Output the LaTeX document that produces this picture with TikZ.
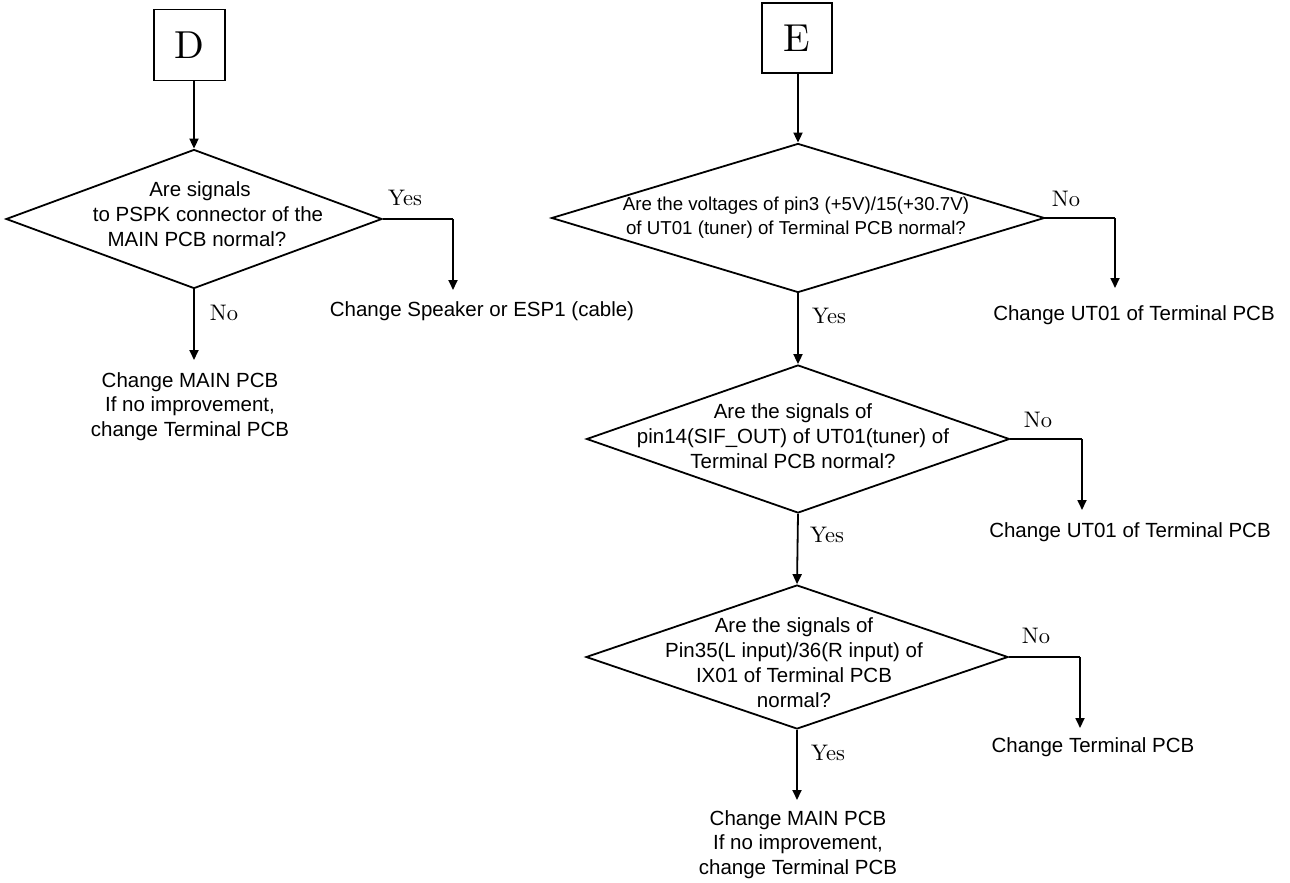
\documentclass[tikz,border=0pt]{standalone}
\usepackage{fontspec}
\setsansfont{Liberation Sans}
\newfontfamily\lblfont{lmroman10-regular}[Extension=.otf]
\usetikzlibrary{shapes.geometric,arrows.meta}
\begin{document}
\begin{tikzpicture}[x=1pt,y=-1pt,
  ln/.style={line width=1.8pt},
  arr/.style={ln,-{Triangle[length=10pt,width=9pt]}},
  startbox/.style={draw,line width=1.8pt,minimum width=71pt,minimum height=71pt,inner sep=0pt,font=\lblfont\fontsize{39}{39}\selectfont},
  dia/.style={diamond,draw,line width=1.8pt,inner sep=0pt},
  qtxt/.style={font=\sffamily\fontsize{20.5}{25}\selectfont,align=center,inner sep=0pt},
  res/.style={font=\sffamily\fontsize{20.5}{24.5}\selectfont,align=center,inner sep=0pt,anchor=north},
  lbl/.style={font=\lblfont\fontsize{22.5}{26}\selectfont,inner sep=0pt}
]
\useasboundingbox (0,0) rectangle (1290,883);

% ---------- D branch ----------
\node[startbox] (D) at (189.5,45) {D};
\node[dia,minimum width=376pt,minimum height=139pt] (q1) at (194,219) {};
\node[qtxt] (q1t) at (208,214) {Are signals\hspace*{16pt}\\to PSPK connector of the\\MAIN PCB normal?\hspace*{22pt}};
\node[res] (t1) at (482,301) {Change Speaker or ESP1 (cable)};
\node[res] (a1) at (190,372) {Change MAIN PCB\\If no improvement,\\change Terminal PCB};
\node[lbl] (y1) at (405,198) {Yes};
\node[lbl] (n1) at (224,313) {No};

\draw[arr] (q1.north |- D.south) -- (q1.north);
\draw[ln] (q1.east) -- (453,219) coordinate (c1);
\draw[arr,shorten >=11pt] (c1) -- (c1 |- t1.north);
\draw[arr,shorten >=12pt] (q1.south) -- (q1.south |- a1.north);

% ---------- E branch ----------
\node[startbox,minimum height=70pt,minimum width=70pt] (E) at (797,38) {E};
\node[dia,minimum width=493pt,minimum height=149pt] (q2) at (798,218) {};
\node[qtxt,font=\sffamily\fontsize{18.7}{24}\selectfont] (q2t) at (796,218) {Are the voltages of pin3 (+5V)/15(+30.7V)\\of UT01 (tuner) of Terminal PCB normal?};
\node[res] (b1) at (1134,305) {Change UT01 of Terminal PCB};
\node[lbl] (n2) at (1066,199) {No};
\node[lbl] (y2) at (829,316) {Yes};

\node[dia,minimum width=423pt,minimum height=148pt] (q3) at (798,439) {};
\node[qtxt] (q3t) at (793,436) {Are the signals of\\pin14(SIF\_OUT) of UT01(tuner) of\\Terminal PCB normal?};
\node[res] (c1t) at (1130,522) {Change UT01 of Terminal PCB};
\node[lbl] (n3) at (1038,420) {No};
\node[lbl] (y3) at (827,535) {Yes};

\node[dia,minimum width=422pt,minimum height=144pt] (q4) at (797,657) {};
\node[qtxt] (q4t) at (794,663) {Are the signals of\\Pin35(L input)/36(R input) of\\IX01 of Terminal PCB\\normal?};
\node[res] (d1) at (1093,737) {Change Terminal PCB};
\node[res] (e1) at (798,810) {Change MAIN PCB\\If no improvement,\\change Terminal PCB};
\node[lbl] (n4) at (1036,636) {No};
\node[lbl] (y4) at (828,753) {Yes};

\draw[arr] (q2.north |- E.south) -- (q2.north);
\draw[ln] (q2.east) -- (1115,218) coordinate (c2);
\draw[arr,shorten >=17pt] (c2) -- (c2 |- b1.north);
\draw[arr] (q2.south) -- (q3.north);
\draw[ln] (q3.east) -- (1082,439) coordinate (c3);
\draw[arr,shorten >=12pt] (c3) -- (c3 |- c1t.north);
\draw[arr] (q3.south) -- (q4.north);
\draw[ln] (q4.east) -- (1080,657) coordinate (c4);
\draw[arr,shorten >=9pt] (c4) -- (c4 |- d1.north);
\draw[arr,shorten >=10pt] (q4.south) -- (q4.south |- e1.north);
\end{tikzpicture}
\end{document}
